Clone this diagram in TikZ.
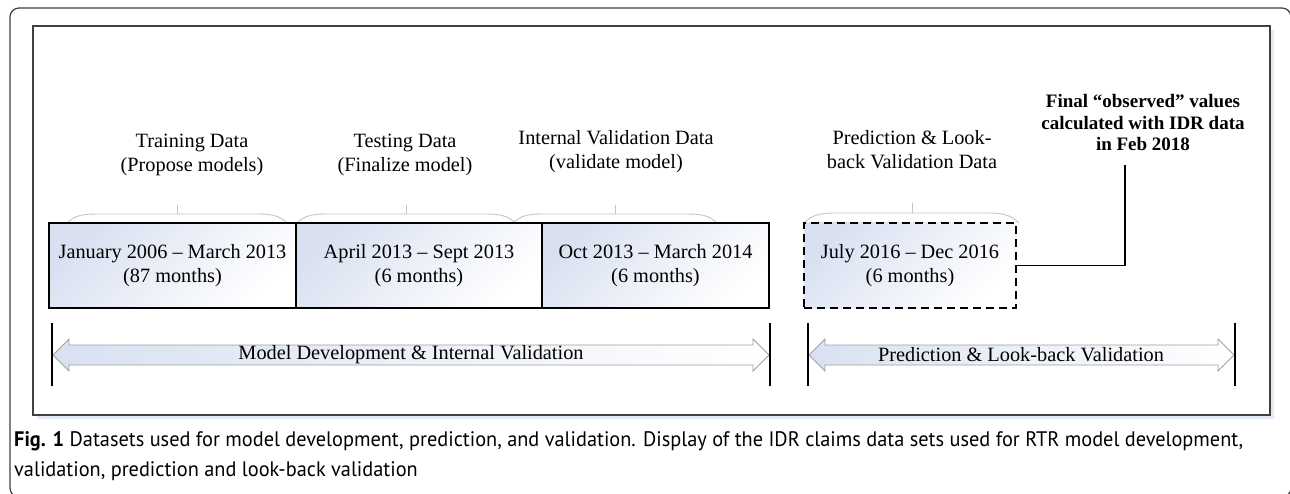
\documentclass[tikz,border=0pt]{standalone}
\usepackage{fontspec}
\setmainfont{Liberation Serif}
\newfontfamily\capfont{PT Sans}
\usepackage{graphicx}
\definecolor{framegray}{HTML}{404040}
\definecolor{boxblue}{HTML}{D9E1F1}
\definecolor{bracegray}{HTML}{C4C4C4}
\definecolor{arrowgray}{HTML}{A0A0A0}
\definecolor{shadowblue}{HTML}{E2EAF5}
\newlength\capw
\newcommand{\capone}{\capfont\fontsize{21}{30}\selectfont\textbf{Fig. 1} Datasets used for model development, prediction, and validation. Display of the IDR claims data sets used for RTR model development,}
\begin{document}
\settowidth\capw{\capone}%
\pgfmathsetmacro\capsx{1229/\capw}%
\begin{tikzpicture}[x=1pt,y=-1pt,
  txt/.style={font=\fontsize{20.3}{24}\selectfont, align=center, inner sep=0pt},
  boldtxt/.style={font=\fontsize{19}{21.5}\selectfont\bfseries, align=center, inner sep=0pt},
  databox/.style={draw=black, line width=1.3pt, top color=boxblue, bottom color=white, shading angle=45,
    minimum height=85pt, inner sep=0pt, align=center, font=\fontsize{20.3}{24}\selectfont},
  dashbox/.style={databox, dashed, dash pattern=on 8pt off 5pt},
  bracestyle/.style={draw=bracegray, line width=0.9pt},
  blockarrow/.style={draw=arrowgray, line width=0.9pt, left color=boxblue, right color=white},
  endline/.style={draw=black, line width=1.4pt},
  conn/.style={draw=black, line width=1.8pt},
  captxt/.style={inner sep=0pt, anchor=west}]
\useasboundingbox (0,0) rectangle (1290,494);
\fill[white] (0,0) rectangle (1290,494);
% outer frame
\draw[framegray, line width=1.2pt, rounded corners=9pt] (10,8) rectangle (1291,497);
% inner panel with shadow
\fill[shadowblue] (37,30) rectangle (1274,419);
\draw[framegray, fill=white, line width=1.4pt] (33,26) rectangle (1270,415);

% top labels
\node[txt] (l1) at (192,155) {Training Data\\(Propose models)};
\node[txt] (l2) at (405,154.5) {Testing Data\\(Finalize model)};
\node[txt] (l3) at (616,151.5) {Internal Validation Data\\(validate model)};
\node[txt] (l4) at (912,149.5) {Prediction \& Look-\\back Validation Data};
\node[boldtxt] (fin) at (1143,123) {Final \textquotedblleft observed\textquotedblright\ values\\calculated with IDR data\\in Feb 2018};

% braces
\foreach \xa/\xb/\xt/\yt/\ytick in {67/287/177/214/205, 297/515/406/214/205, 513/717/615/214/205, 804/1019/912/213/203}{
  \draw[bracestyle] (\xa,223) .. controls (\xa+8,215) and (\xa+16,\yt) .. (\xa+32,\yt) -- (\xb-32,\yt)
     .. controls (\xb-16,\yt) and (\xb-8,215) .. (\xb,223);
  \draw[bracestyle] (\xt,\yt) -- (\xt,\ytick);
}

% data boxes
\node[databox, minimum width=247pt] (b1) at (172.5,265.5) {January 2006 -- March 2013\\(87 months)};
\node[databox, minimum width=246pt] (b2) at (419,265.5) {April 2013 -- Sept 2013\\(6 months)};
\node[databox, minimum width=227pt] (b3) at (655.5,265.5) {Oct 2013 -- March 2014\\(6 months)};
\node[dashbox, minimum width=212pt] (b4) at (910,265.5) {July 2016 -- Dec 2016\\(6 months)};

% connector to final observed values
\coordinate (c1) at (1125,165);
\draw[conn] (b4.east) -| (c1);

% end lines
\coordinate (e1t) at (52,323); \coordinate (e1b) at (52,386);
\coordinate (e2t) at (770,323); \coordinate (e2b) at (770,386);
\coordinate (e3t) at (808,323); \coordinate (e3b) at (808,386);
\coordinate (e4t) at (1235,323); \coordinate (e4b) at (1235,386);

% block arrows
\draw[blockarrow] (53,355) -- (69,339) -- (69,345) -- (753,345) -- (753,339) -- (769,355)
  -- (753,371) -- (753,365) -- (69,365) -- (69,371) -- cycle;
\draw[blockarrow] (809,355) -- (825,339) -- (825,345) -- (1218,345) -- (1218,339) -- (1234,355)
  -- (1218,371) -- (1218,365) -- (825,365) -- (825,371) -- cycle;
\draw[endline] (e1t) -- (e1b);
\draw[endline] (e2t) -- (e2b);
\draw[endline] (e3t) -- (e3b);
\draw[endline] (e4t) -- (e4b);
\node[txt] (a1) at (411,355) {Model Development \& Internal Validation};
\node[txt] (a2) at (1021,355) {Prediction \& Look-back Validation};

% caption
\node[captxt] (cap1) at (14,441) {\scalebox{\capsx}[1]{\capone}};
\node[captxt] (cap2) at (14,471) {\scalebox{\capsx}[1]{\capfont\fontsize{21}{30}\selectfont validation, prediction and look-back validation}};
\end{tikzpicture}
\end{document}
